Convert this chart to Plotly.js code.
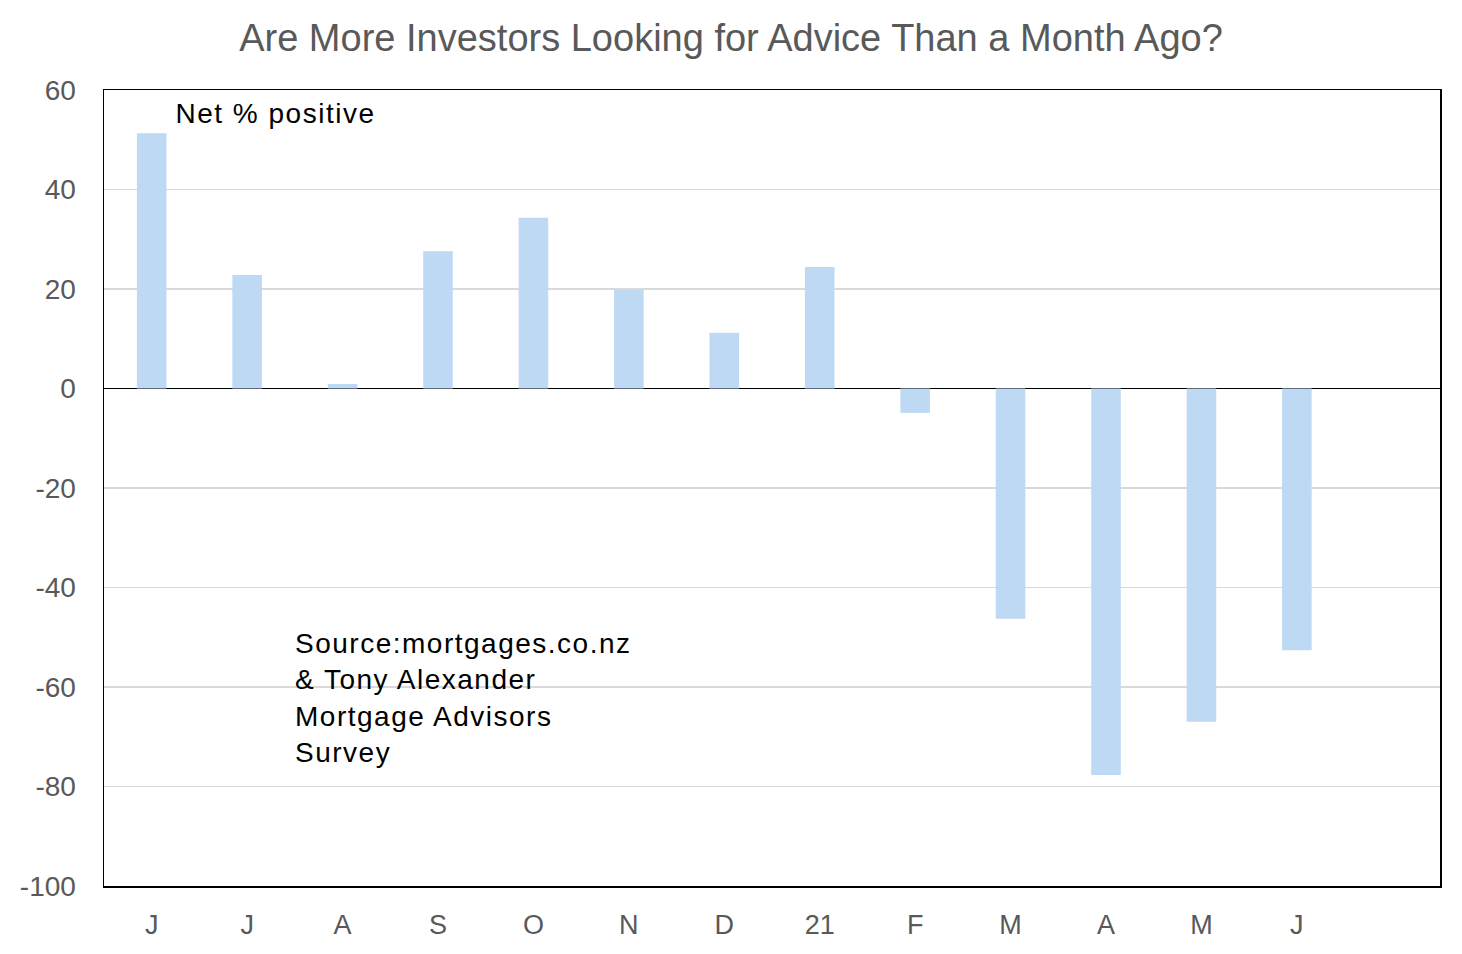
<!DOCTYPE html>
<html>
<head>
<meta charset="utf-8">
<script src="https://cdn.plot.ly/plotly-3.0.1.min.js"></script>
<style>
  html, body { margin: 0; padding: 0; background: #fff; }
  #chart { width: 1462px; height: 954px; }
  /* the source chart sets its notes with loose letter spacing */
  #chart .annotation-text { letter-spacing: 1.5px; }
</style>
</head>
<body>
<div id="chart"></div>
<script>
// month labels, June 2020 to June 2021 ("21" marks January)
var months = ['J', 'J', 'A', 'S', 'O', 'N', 'D', '21', 'F', 'M', 'A', 'M', 'J'];
var netPositive = [51.3, 22.8, 0.9, 27.6, 34.3, 19.8, 11.2, 24.4, -4.9, -46.3, -77.7, -67.0, -52.6];
var yTicks = [-100, -80, -60, -40, -20, 0, 20, 40, 60];
var yTickText = ['-100', '-80', '-60', '-40', '-20', '0', '20', '40', '60'];

var textFont = 'Liberation Sans, Arial, sans-serif';

var bars = {
    x: months.map(function (m, i) { return i; }),
    y: netPositive,
    type: 'bar',
    width: 0.31,
    marker: {color: '#BDD9F4', line: {width: 0}},
    hoverinfo: 'skip'
};

var layout = {
    width: 1462,
    height: 954,
    margin: {l: 104, r: 22, t: 90, b: 68},
    paper_bgcolor: '#ffffff',
    plot_bgcolor: '#ffffff',
    showlegend: false,
    font: {family: textFont, color: '#595959', size: 27},
    title: {
        text: 'Are More Investors Looking for Advice Than a Month Ago?',
        font: {family: textFont, size: 38, color: '#595959'},
        x: 0.5,
        xref: 'container',
        xanchor: 'center',
        y: 0.96,
        yanchor: 'middle'
    },
    xaxis: {
        range: [-0.5, 13.5],
        tickvals: months.map(function (m, i) { return i; }),
        ticktext: months,
        ticks: '',
        showgrid: false,
        zeroline: false,
        showline: true,
        linecolor: '#000000',
        linewidth: 1.5,
        mirror: true,
        ticklabelstandoff: 14,
        tickfont: {family: textFont, size: 27, color: '#595959'},
        fixedrange: true
    },
    yaxis: {
        range: [-100, 60],
        tickvals: yTicks,
        ticktext: yTickText,
        ticks: '',
        showgrid: true,
        gridcolor: '#D9D9D9',
        gridwidth: 1.2,
        zeroline: true,
        zerolinecolor: '#000000',
        zerolinewidth: 1.5,
        showline: true,
        linecolor: '#000000',
        linewidth: 1.5,
        mirror: true,
        ticklabelstandoff: 21,
        tickfont: {family: textFont, size: 28, color: '#595959'},
        fixedrange: true
    },
    annotations: [
        {
            text: 'Net % positive',
            xref: 'paper', yref: 'paper',
            x: (184 - 104) / 1336, y: (886 - 113) / 796,
            xanchor: 'left', yanchor: 'middle',
            showarrow: false,
            font: {family: textFont, size: 28, color: '#000000'}
        },
        {
            text: 'Source:mortgages.co.nz<br>&amp; Tony Alexander<br>Mortgage Advisors<br>Survey',
            xref: 'paper', yref: 'paper',
            x: (293 - 104) / 1336, y: (886 - 698) / 796,
            xanchor: 'left', yanchor: 'middle', align: 'left',
            showarrow: false,
            font: {family: textFont, size: 28, color: '#000000'}
        }
    ]
};

Plotly.newPlot('chart', [bars], layout, {displayModeBar: false, staticPlot: true});
</script>
</body>
</html>
